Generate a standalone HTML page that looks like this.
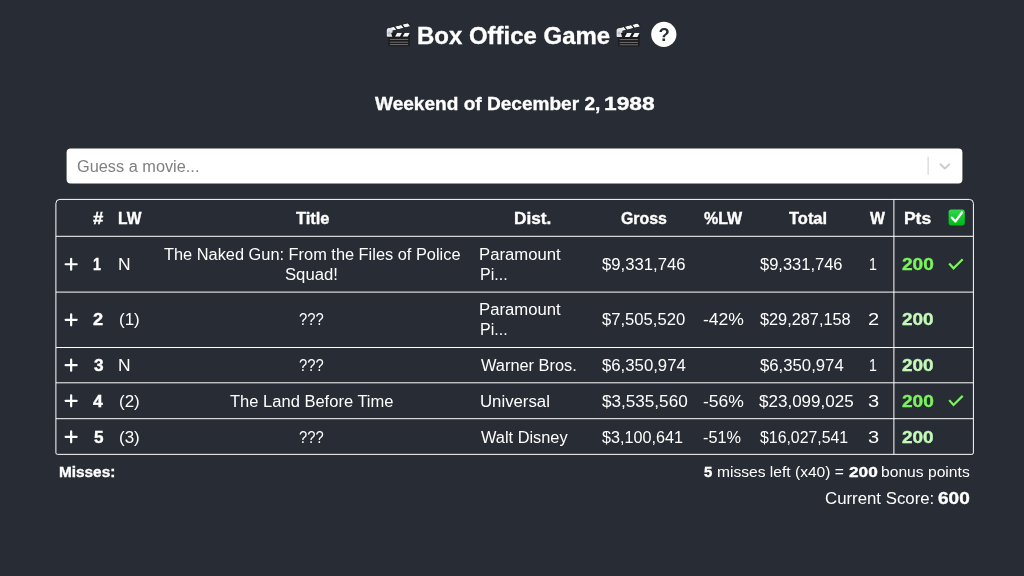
<!DOCTYPE html>
<html><head><meta charset="utf-8"><title>Box Office Game</title><style>
html,body{margin:0;padding:0;}
body{width:1024px;height:576px;overflow:hidden;background:#282c34;font-family:"Liberation Sans",sans-serif;position:relative;}
.t{position:absolute;white-space:nowrap;transform-origin:0 0;line-height:20px;font-family:"Liberation Sans",sans-serif;}
svg{position:absolute;left:0;top:0;}
#root{position:absolute;left:0;top:0;width:1024px;height:576px;will-change:transform;}
</style></head>
<body>
<div id="root">
<svg width="1024" height="576" viewBox="0 0 1024 576">
<defs>
<linearGradient id="gchk" x1="0" y1="0" x2="0" y2="1"><stop offset="0" stop-color="#2fd84a"/><stop offset="1" stop-color="#00b716"/></linearGradient>
<clipPath id="barclip"><rect x="0" y="0" width="23.4" height="4.1" rx="0.4"/></clipPath>
<clipPath id="armclip"><rect x="0" y="0" width="23.6" height="3.5" rx="0.4"/></clipPath>
</defs>
<g transform="translate(386.5,22.6)">
  <rect x="1.9" y="14.0" width="21.4" height="9.7" rx="1" fill="#1b1b1d"/>
  <g stroke="#8d8d90" stroke-width="0.75"><line x1="3.3" y1="16.8" x2="21.7" y2="16.8"/><line x1="3.3" y1="19.6" x2="21.7" y2="19.6"/><line x1="3.3" y1="22.0" x2="21.7" y2="22.0"/></g>
  <g transform="translate(0.3,10.1)">
    <rect x="0" y="0" width="23.4" height="4.1" rx="0.4" fill="#1b1b1d"/>
    <g clip-path="url(#barclip)" fill="#f6f6f6">
      <polygon points="8.2,4.1 10.4,0 15.2,0 13.0,4.1"/>
      <polygon points="15.8,4.1 18.0,0 23.0,0 20.8,4.1"/>
    </g>
  </g>
  <g transform="translate(0.5,5.9) rotate(-14.2)">
    <rect x="0" y="0" width="23.6" height="3.5" rx="0.4" fill="#1b1b1d"/>
    <g clip-path="url(#armclip)" fill="#f6f6f6">
      <polygon points="0,0 7.0,0 8.6,3.5 0,3.5"/>
      <polygon points="8.4,0 14.6,0 16.2,3.5 10.0,3.5"/>
      <polygon points="16.0,0 21.4,0 23.0,3.5 17.6,3.5"/>
    </g>
  </g>
  <path d="M0.3,7.4 q0,-1.3 1.3,-1.5 l3.6,-0.8 l1.0,4.6 l-1.6,0.6 l1.2,3.9 l-4.5,0 q-1,0 -1,-1 z" fill="#e2e5e7"/>
  <circle cx="2.7" cy="10.3" r="1.5" fill="#b9bfc4"/>
</g>
<g transform="translate(616.3,22.8)">
  <rect x="1.9" y="14.0" width="21.4" height="9.7" rx="1" fill="#1b1b1d"/>
  <g stroke="#8d8d90" stroke-width="0.75"><line x1="3.3" y1="16.8" x2="21.7" y2="16.8"/><line x1="3.3" y1="19.6" x2="21.7" y2="19.6"/><line x1="3.3" y1="22.0" x2="21.7" y2="22.0"/></g>
  <g transform="translate(0.3,10.1)">
    <rect x="0" y="0" width="23.4" height="4.1" rx="0.4" fill="#1b1b1d"/>
    <g clip-path="url(#barclip)" fill="#f6f6f6">
      <polygon points="8.2,4.1 10.4,0 15.2,0 13.0,4.1"/>
      <polygon points="15.8,4.1 18.0,0 23.0,0 20.8,4.1"/>
    </g>
  </g>
  <g transform="translate(0.5,5.9) rotate(-14.2)">
    <rect x="0" y="0" width="23.6" height="3.5" rx="0.4" fill="#1b1b1d"/>
    <g clip-path="url(#armclip)" fill="#f6f6f6">
      <polygon points="0,0 7.0,0 8.6,3.5 0,3.5"/>
      <polygon points="8.4,0 14.6,0 16.2,3.5 10.0,3.5"/>
      <polygon points="16.0,0 21.4,0 23.0,3.5 17.6,3.5"/>
    </g>
  </g>
  <path d="M0.3,7.4 q0,-1.3 1.3,-1.5 l3.6,-0.8 l1.0,4.6 l-1.6,0.6 l1.2,3.9 l-4.5,0 q-1,0 -1,-1 z" fill="#e2e5e7"/>
  <circle cx="2.7" cy="10.3" r="1.5" fill="#b9bfc4"/>
</g>
<circle cx="663.8" cy="34.4" r="12.6" fill="#fff"/>
<rect x="66.6" y="148.5" width="895.8" height="35.1" rx="4" fill="#fff"/>
<rect x="927.6" y="156.8" width="1" height="18" fill="#cccccc"/>
<path d="M940.5,164.3 L944.9,168.6 L949.3,164.3" fill="none" stroke="#cccccc" stroke-width="1.9" stroke-linecap="round" stroke-linejoin="round"/>
<path d="M55.9,203.4 A4,4 0 0 1 59.9,199.4 H969.4 A4,4 0 0 1 973.4,203.4 V452.85 A1.5,1.5 0 0 1 971.9,454.35 H57.4 A1.5,1.5 0 0 1 55.9,452.85 Z" fill="none" stroke="#ffffff" stroke-width="1"/>
<line x1="55.9" y1="236.3" x2="973.4" y2="236.3" stroke="#ffffff" stroke-width="1"/>
<line x1="55.9" y1="292.1" x2="973.4" y2="292.1" stroke="#ffffff" stroke-width="1"/>
<line x1="55.9" y1="347.5" x2="973.4" y2="347.5" stroke="#ffffff" stroke-width="1"/>
<line x1="55.9" y1="382.8" x2="973.4" y2="382.8" stroke="#ffffff" stroke-width="1"/>
<line x1="55.9" y1="418.7" x2="973.4" y2="418.7" stroke="#ffffff" stroke-width="1"/>
<line x1="893.9" y1="199.4" x2="893.9" y2="454.35" stroke="#ffffff" stroke-width="1"/>
<path d="M65.6,264.25 H76.7 M71.15,258.75 V269.75" stroke="#fff" stroke-width="2.2" stroke-linecap="round" fill="none"/>
<path d="M65.6,319.85 H76.7 M71.15,314.35 V325.35" stroke="#fff" stroke-width="2.2" stroke-linecap="round" fill="none"/>
<path d="M65.6,365.20 H76.7 M71.15,359.70 V370.70" stroke="#fff" stroke-width="2.2" stroke-linecap="round" fill="none"/>
<path d="M65.6,400.85 H76.7 M71.15,395.35 V406.35" stroke="#fff" stroke-width="2.2" stroke-linecap="round" fill="none"/>
<path d="M65.6,436.80 H76.7 M71.15,431.30 V442.30" stroke="#fff" stroke-width="2.2" stroke-linecap="round" fill="none"/>
<path d="M949.9,264.35 L953.5,268.35 L961.9,260.05" stroke="#7bf25e" stroke-width="2.2" stroke-linecap="square" stroke-linejoin="miter" fill="none"/>
<path d="M949.9,400.95 L953.5,404.95 L961.9,396.65" stroke="#7bf25e" stroke-width="2.2" stroke-linecap="square" stroke-linejoin="miter" fill="none"/>
<rect x="948.6" y="209.6" width="16.2" height="15.8" rx="2.6" fill="url(#gchk)"/>
<path d="M951.8,217.6 L955.3,221.6 L962.0,212.4" stroke="#fff" stroke-width="2.3" stroke-linecap="round" stroke-linejoin="round" fill="none"/>
</svg>
<span style="position:absolute;left:658.6px;top:25px;width:10.6px;text-align:center;font:700 18.5px/20px 'Liberation Sans',sans-serif;color:#282c34;">?</span>
<span class="t" id="title" style="left:417.02px;top:26.00px;font-size:24px;color:#ffffff;transform:scaleX(0.9986);font-weight:700;-webkit-text-stroke:0.35px #ffffff;">Box Office Game</span>
<span class="t" id="sub" style="left:374.80px;top:94.00px;font-size:19px;color:#ffffff;transform:scaleX(1.0033);font-weight:700;-webkit-text-stroke:0.35px #ffffff;">Weekend of December 2,</span>
<span class="t" id="sub2" style="left:603.53px;top:94.00px;font-size:19px;color:#ffffff;transform:scaleX(1.1976);font-weight:700;-webkit-text-stroke:0.35px #ffffff;">1988</span>
<span class="t" id="ph" style="left:76.77px;top:157.00px;font-size:16px;color:#808080;transform:scaleX(1.0197);">Guess a movie...</span>
<span class="t" id="h_n" style="left:93.19px;top:209.00px;font-size:16px;color:#ffffff;transform:scaleX(1.1575);font-weight:700;-webkit-text-stroke:0.35px #ffffff;">#</span>
<span class="t" id="h_lw" style="left:118.20px;top:209.00px;font-size:16px;color:#ffffff;transform:scaleX(0.9733);font-weight:700;-webkit-text-stroke:0.35px #ffffff;">LW</span>
<span class="t" id="h_title" style="left:296.02px;top:209.00px;font-size:16px;color:#ffffff;transform:scaleX(1.0281);font-weight:700;-webkit-text-stroke:0.35px #ffffff;">Title</span>
<span class="t" id="h_dist" style="left:514.00px;top:209.00px;font-size:16px;color:#ffffff;transform:scaleX(1.0729);font-weight:700;-webkit-text-stroke:0.35px #ffffff;">Dist.</span>
<span class="t" id="h_gross" style="left:621.42px;top:209.00px;font-size:16px;color:#ffffff;transform:scaleX(0.9937);font-weight:700;-webkit-text-stroke:0.35px #ffffff;">Gross</span>
<span class="t" id="h_plw" style="left:704.08px;top:209.00px;font-size:16px;color:#ffffff;transform:scaleX(0.9987);font-weight:700;-webkit-text-stroke:0.35px #ffffff;">%LW</span>
<span class="t" id="h_total" style="left:788.76px;top:209.00px;font-size:16px;color:#ffffff;transform:scaleX(1.0284);font-weight:700;-webkit-text-stroke:0.35px #ffffff;">Total</span>
<span class="t" id="h_w" style="left:869.88px;top:209.00px;font-size:16px;color:#ffffff;transform:scaleX(0.9860);font-weight:700;-webkit-text-stroke:0.35px #ffffff;">W</span>
<span class="t" id="h_pts" style="left:903.64px;top:209.00px;font-size:16px;color:#ffffff;transform:scaleX(1.0860);font-weight:700;-webkit-text-stroke:0.35px #ffffff;">Pts</span>
<span class="t" id="r1_n" style="left:93.17px;top:255.00px;font-size:16px;color:#ffffff;transform:scaleX(0.8920);font-weight:700;-webkit-text-stroke:0.35px #ffffff;">1</span>
<span class="t" id="r1_lw" style="left:118.35px;top:255.00px;font-size:16px;color:#ffffff;transform:scaleX(1.0902);">N</span>
<span class="t" id="r1_t0" style="left:164.24px;top:245.00px;font-size:16px;color:#ffffff;transform:scaleX(1.0227);">The Naked Gun: From the Files of Police</span>
<span class="t" id="r1_t1" style="left:285.11px;top:265.00px;font-size:16px;color:#ffffff;transform:scaleX(1.0419);">Squad!</span>
<span class="t" id="r1_d0" style="left:479.45px;top:245.00px;font-size:16px;color:#ffffff;transform:scaleX(1.0425);">Paramount</span>
<span class="t" id="r1_d1" style="left:480.03px;top:265.00px;font-size:16px;color:#ffffff;transform:scaleX(1.0008);">Pi...</span>
<span class="t" id="r1_g" style="left:602.10px;top:255.00px;font-size:16px;color:#ffffff;transform:scaleX(1.0422);">$9,331,746</span>
<span class="t" id="r1_tot" style="left:759.53px;top:255.00px;font-size:16px;color:#ffffff;transform:scaleX(1.0303);">$9,331,746</span>
<span class="t" id="r1_w" style="left:868.50px;top:255.00px;font-size:16px;color:#ffffff;transform:scaleX(0.8865);">1</span>
<span class="t" id="r1_pts" style="left:901.60px;top:255.00px;font-size:16px;color:#7bf25e;transform:scaleX(1.1911);font-weight:700;-webkit-text-stroke:0.35px #7bf25e;">200</span>
<span class="t" id="r2_n" style="left:93.34px;top:310.00px;font-size:16px;color:#ffffff;transform:scaleX(1.1372);font-weight:700;-webkit-text-stroke:0.35px #ffffff;">2</span>
<span class="t" id="r2_lw" style="left:119.00px;top:310.00px;font-size:16px;color:#ffffff;transform:scaleX(1.0612);">(1)</span>
<span class="t" id="r2_t0" style="left:299.11px;top:310.00px;font-size:16px;color:#ffffff;transform:scaleX(0.9214);">???</span>
<span class="t" id="r2_d0" style="left:479.45px;top:300.00px;font-size:16px;color:#ffffff;transform:scaleX(1.0425);">Paramount</span>
<span class="t" id="r2_d1" style="left:480.03px;top:320.00px;font-size:16px;color:#ffffff;transform:scaleX(1.0008);">Pi...</span>
<span class="t" id="r2_g" style="left:602.13px;top:310.00px;font-size:16px;color:#ffffff;transform:scaleX(1.0395);">$7,505,520</span>
<span class="t" id="r2_p" style="left:703.26px;top:310.00px;font-size:16px;color:#ffffff;transform:scaleX(1.0970);">-42%</span>
<span class="t" id="r2_tot" style="left:759.65px;top:310.00px;font-size:16px;color:#ffffff;transform:scaleX(1.0181);">$29,287,158</span>
<span class="t" id="r2_w" style="left:868.22px;top:310.00px;font-size:16px;color:#ffffff;transform:scaleX(1.2500);">2</span>
<span class="t" id="r2_pts" style="left:902.40px;top:310.00px;font-size:16px;color:#c4f9b8;transform:scaleX(1.1860);font-weight:700;-webkit-text-stroke:0.35px #c4f9b8;">200</span>
<span class="t" id="r3_n" style="left:93.53px;top:356.00px;font-size:16px;color:#ffffff;transform:scaleX(1.0760);font-weight:700;-webkit-text-stroke:0.35px #ffffff;">3</span>
<span class="t" id="r3_lw" style="left:118.35px;top:356.00px;font-size:16px;color:#ffffff;transform:scaleX(1.0902);">N</span>
<span class="t" id="r3_t0" style="left:299.11px;top:356.00px;font-size:16px;color:#ffffff;transform:scaleX(0.9214);">???</span>
<span class="t" id="r3_d0" style="left:480.50px;top:356.00px;font-size:16px;color:#ffffff;transform:scaleX(1.0234);">Warner Bros.</span>
<span class="t" id="r3_g" style="left:602.08px;top:356.00px;font-size:16px;color:#ffffff;transform:scaleX(1.0465);">$6,350,974</span>
<span class="t" id="r3_tot" style="left:759.51px;top:356.00px;font-size:16px;color:#ffffff;transform:scaleX(1.0449);">$6,350,974</span>
<span class="t" id="r3_w" style="left:868.50px;top:356.00px;font-size:16px;color:#ffffff;transform:scaleX(0.8865);">1</span>
<span class="t" id="r3_pts" style="left:902.40px;top:356.00px;font-size:16px;color:#c4f9b8;transform:scaleX(1.1860);font-weight:700;-webkit-text-stroke:0.35px #c4f9b8;">200</span>
<span class="t" id="r4_n" style="left:93.19px;top:392.00px;font-size:16px;color:#ffffff;transform:scaleX(1.0923);font-weight:700;-webkit-text-stroke:0.35px #ffffff;">4</span>
<span class="t" id="r4_lw" style="left:119.00px;top:392.00px;font-size:16px;color:#ffffff;transform:scaleX(1.0612);">(2)</span>
<span class="t" id="r4_t0" style="left:229.54px;top:392.00px;font-size:16px;color:#ffffff;transform:scaleX(1.0327);">The Land Before Time</span>
<span class="t" id="r4_d0" style="left:479.55px;top:392.00px;font-size:16px;color:#ffffff;transform:scaleX(1.0479);">Universal</span>
<span class="t" id="r4_g" style="left:601.84px;top:392.00px;font-size:16px;color:#ffffff;transform:scaleX(1.0701);">$3,535,560</span>
<span class="t" id="r4_p" style="left:703.26px;top:392.00px;font-size:16px;color:#ffffff;transform:scaleX(1.0970);">-56%</span>
<span class="t" id="r4_tot" style="left:759.33px;top:392.00px;font-size:16px;color:#ffffff;transform:scaleX(1.0641);">$23,099,025</span>
<span class="t" id="r4_w" style="left:868.37px;top:392.00px;font-size:16px;color:#ffffff;transform:scaleX(1.2500);">3</span>
<span class="t" id="r4_pts" style="left:901.60px;top:392.00px;font-size:16px;color:#7bf25e;transform:scaleX(1.1911);font-weight:700;-webkit-text-stroke:0.35px #7bf25e;">200</span>
<span class="t" id="r5_n" style="left:94.02px;top:428.00px;font-size:16px;color:#ffffff;transform:scaleX(1.0711);font-weight:700;-webkit-text-stroke:0.35px #ffffff;">5</span>
<span class="t" id="r5_lw" style="left:119.00px;top:428.00px;font-size:16px;color:#ffffff;transform:scaleX(1.0612);">(3)</span>
<span class="t" id="r5_t0" style="left:299.11px;top:428.00px;font-size:16px;color:#ffffff;transform:scaleX(0.9214);">???</span>
<span class="t" id="r5_d0" style="left:480.50px;top:428.00px;font-size:16px;color:#ffffff;transform:scaleX(1.0219);">Walt Disney</span>
<span class="t" id="r5_g" style="left:602.45px;top:428.00px;font-size:16px;color:#ffffff;transform:scaleX(1.0098);">$3,100,641</span>
<span class="t" id="r5_p" style="left:703.06px;top:428.00px;font-size:16px;color:#ffffff;transform:scaleX(1.0191);">-51%</span>
<span class="t" id="r5_tot" style="left:760.06px;top:428.00px;font-size:16px;color:#ffffff;transform:scaleX(0.9908);">$16,027,541</span>
<span class="t" id="r5_w" style="left:868.37px;top:428.00px;font-size:16px;color:#ffffff;transform:scaleX(1.2500);">3</span>
<span class="t" id="r5_pts" style="left:902.40px;top:428.00px;font-size:16px;color:#c4f9b8;transform:scaleX(1.1860);font-weight:700;-webkit-text-stroke:0.35px #c4f9b8;">200</span>
<span class="t" id="miss" style="left:58.90px;top:462.00px;font-size:14.5px;color:#ffffff;transform:scaleX(1.0584);font-weight:700;-webkit-text-stroke:0.35px #ffffff;">Misses:</span>
<span class="t" id="cur_a" style="left:825.37px;top:489.00px;font-size:16px;color:#ffffff;transform:scaleX(1.0502);">Current Score:</span>
<span class="t" id="cur_b" style="left:937.97px;top:489.00px;font-size:16px;color:#ffffff;transform:scaleX(1.1873);font-weight:700;-webkit-text-stroke:0.35px #ffffff;">600</span>
<span class="t" id="bon_a" style="left:704.35px;top:462.00px;font-size:14.5px;color:#ffffff;transform:scaleX(1.0306);font-weight:700;-webkit-text-stroke:0.35px #ffffff;">5</span>
<span class="t" id="bon_b" style="left:717.07px;top:462.00px;font-size:14.5px;color:#ffffff;transform:scaleX(1.0748);">misses left (x40) =</span>
<span class="t" id="bon_c" style="left:848.73px;top:462.00px;font-size:14.5px;color:#ffffff;transform:scaleX(1.1872);font-weight:700;-webkit-text-stroke:0.35px #ffffff;">200</span>
<span class="t" id="bon_d" style="left:880.60px;top:462.00px;font-size:14.5px;color:#ffffff;transform:scaleX(1.0787);">bonus points</span>
</div>
</body></html>
